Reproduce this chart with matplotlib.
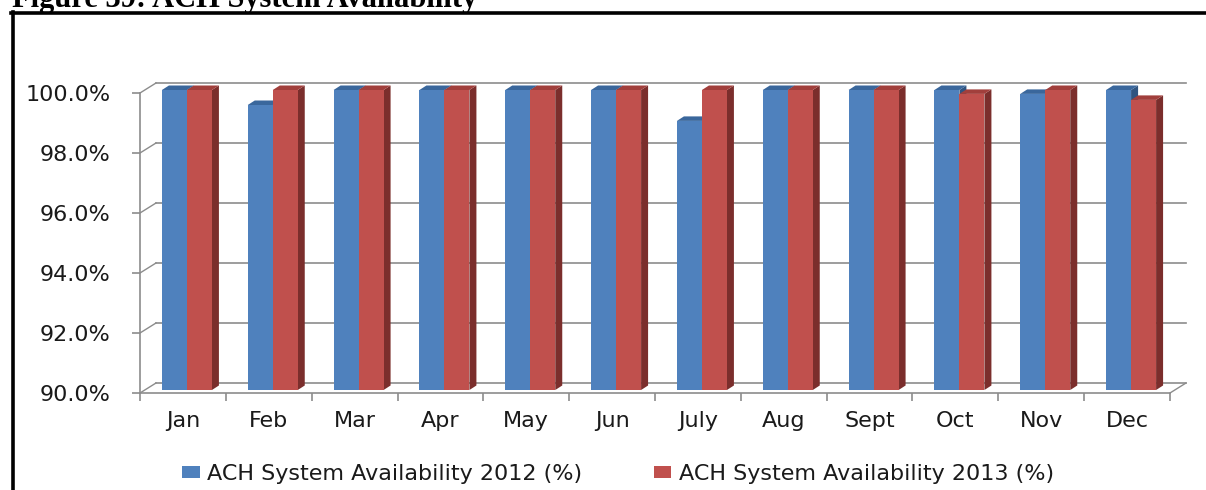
import matplotlib
matplotlib.use("Agg")
import matplotlib.pyplot as plt
from matplotlib.patches import Polygon, Rectangle, Patch
from matplotlib.lines import Line2D

# ---- data -------------------------------------------------------------
months = ["Jan", "Feb", "Mar", "Apr", "May", "Jun",
          "July", "Aug", "Sept", "Oct", "Nov", "Dec"]
avail_2012 = [100.0, 99.5, 100.0, 100.0, 100.0, 100.0,
              98.97, 100.0, 100.0, 100.0, 99.87, 100.0]
avail_2013 = [100.0, 100.0, 100.0, 100.0, 100.0, 100.0,
              100.0, 100.0, 100.0, 99.87, 100.0, 99.67]
series_names = ["ACH System Availability 2012 (%)",
                "ACH System Availability 2013 (%)"]
y_ticks = [90, 92, 94, 96, 98, 100]
title = "Figure 39: ACH System Availability"

# ---- style ------------------------------------------------------------
FONT = ["DejaVu Sans"]
FS = 16
TXT = "#1a1a1a"
GRID = "#8c8c8c"
FACE = ["#4f81bd", "#c0504d"]
TOP = ["#3a679c", "#a13f3c"]
SIDE = ["#2f5480", "#7b2e2c"]

W, H, DPI = 1206, 490, 100
fig = plt.figure(figsize=(W / DPI, H / DPI), dpi=DPI)
fig.patch.set_facecolor("white")

# front plane of the 3-D plot box (pixels)
L, R, B, T = 140, 1170, 97, 397
ax = fig.add_axes([L / W, B / H, (R - L) / W, (T - B) / H])
n = len(months)
xmin, xmax = -0.5, n - 0.5
ymin, ymax = 90, 100
ax.set_xlim(xmin, xmax)
ax.set_ylim(ymin, ymax)
ax.set_facecolor("none")

# pixel -> data unit conversion
px_x = (xmax - xmin) / (R - L)
px_y = (ymax - ymin) / (T - B)

# depth offsets: back wall, bar placement, bar thickness
back_dx, back_dy = 16 * px_x, 10 * px_y
bar_dx, bar_dy = 4 * px_x, 3 * px_y
deep_dx, deep_dy = 7 * px_x, 4.5 * px_y
bw = 25 * px_x

# back-wall gridlines and left-wall diagonals
for yv in y_ticks:
    ax.plot([xmin + back_dx, xmax + back_dx], [yv + back_dy, yv + back_dy],
            color=GRID, lw=1.2, clip_on=False, zorder=1)
    ax.plot([xmin, xmin + back_dx], [yv, yv + back_dy],
            color=GRID, lw=1.0, clip_on=False, zorder=1)
# floor right edge
ax.plot([xmax, xmax + back_dx], [ymin, ymin + back_dy],
        color=GRID, lw=1.0, clip_on=False, zorder=1)


def draw_bar(xl, top, k):
    x0 = xl + bar_dx
    y0 = ymin + bar_dy
    y1 = top + bar_dy
    x1 = x0 + bw
    side = [(x1, y0), (x1 + deep_dx, y0 + deep_dy),
            (x1 + deep_dx, y1 + deep_dy), (x1, y1)]
    lid = [(x0, y1), (x1, y1), (x1 + deep_dx, y1 + deep_dy),
           (x0 + deep_dx, y1 + deep_dy)]
    ax.add_patch(Polygon(side, closed=True, fc=SIDE[k], ec="none",
                         zorder=3, clip_on=False))
    ax.add_patch(Polygon(lid, closed=True, fc=TOP[k], ec="none",
                         zorder=3, clip_on=False))
    ax.add_patch(Rectangle((x0, y0), bw, y1 - y0, fc=FACE[k], ec="none",
                           zorder=3, clip_on=False))


for i in range(n):
    draw_bar(i - bw, avail_2012[i], 0)
    draw_bar(i, avail_2013[i], 1)

# axes: front edges, ticks and labels
for s in ["top", "right"]:
    ax.spines[s].set_visible(False)
for s in ["left", "bottom"]:
    ax.spines[s].set_color(GRID)
    ax.spines[s].set_linewidth(1.2)

ax.set_yticks(y_ticks)
ax.set_yticklabels([f"{v:.1f}%" for v in y_ticks])
ax.set_xticks(range(n))
ax.set_xticklabels(months)
ax.set_xticks([i - 0.5 for i in range(n + 1)], minor=True)
ax.tick_params(axis="x", which="major", length=0, pad=13,
               labelsize=FS, labelcolor=TXT)
ax.tick_params(axis="x", which="minor", length=6, width=1.2,
               color=GRID, direction="out")
ax.tick_params(axis="y", length=6, width=1.2, color=GRID, pad=15,
               labelsize=FS, labelcolor=TXT)
for lab in ax.get_xticklabels() + ax.get_yticklabels():
    lab.set_fontfamily(FONT)

# legend
handles = [Patch(fc=FACE[0], ec="none"), Patch(fc=FACE[1], ec="none")]
fig.legend(handles, series_names, loc="center", ncol=2,
           bbox_to_anchor=(618 / W, 1 - 474 / H), frameon=False,
           prop={"family": FONT, "size": FS}, labelcolor=TXT,
           handlelength=0.8, handleheight=0.45, handletextpad=0.35,
           columnspacing=3.2)

# outer frame (left and top edges of the figure box)
fig.add_artist(Line2D([12.5 / W, 12.5 / W], [0, 1 - 12.5 / H],
                      color="black", lw=2.6, transform=fig.transFigure))
fig.add_artist(Line2D([11 / W, 1.0], [1 - 13 / H, 1 - 13 / H],
                      color="black", lw=2.6, transform=fig.transFigure))

# caption, partly above the top edge
fig.text(12 / W, 1 - 7 / H, title, ha="left", va="baseline",
         fontfamily=["Liberation Serif", "DejaVu Serif"],
         fontweight="bold", fontsize=22, color="black")

fig.savefig("out.png", dpi=DPI)
